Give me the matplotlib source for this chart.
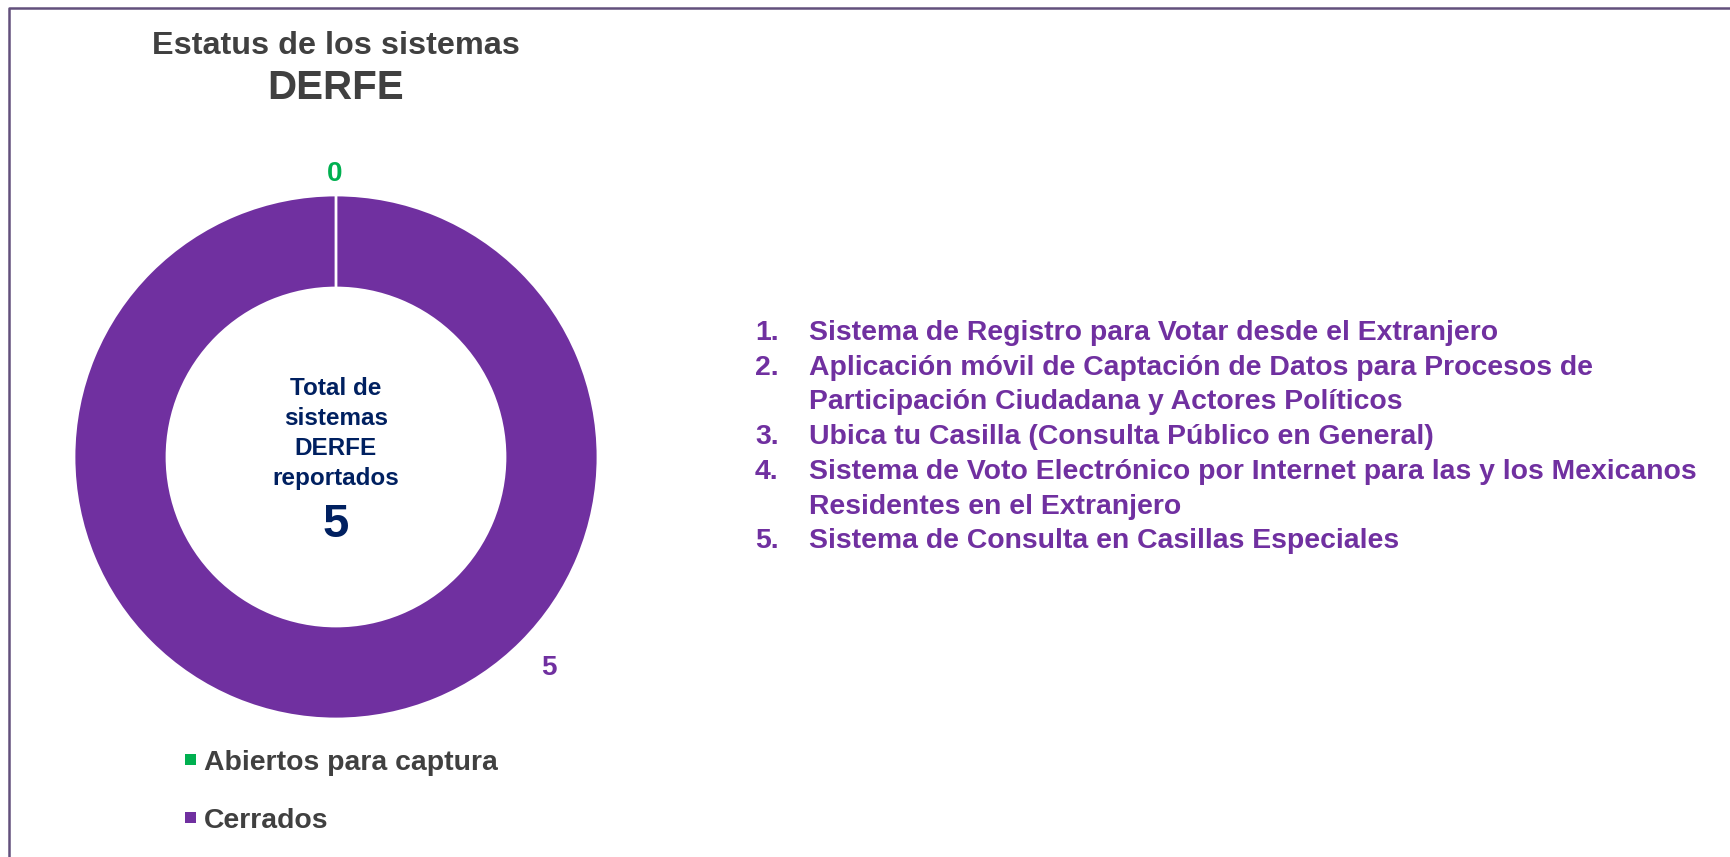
import matplotlib
matplotlib.use("Agg")
import matplotlib.pyplot as plt
from matplotlib.patches import Rectangle

# data
status_labels = ["Abiertos para captura", "Cerrados"]
status_values = [0, 5]
status_colors = ["#00B050", "#7030A0"]

title_lines = ["Estatus de los sistemas", "DERFE"]
center_lines = ["Total de", "sistemas", "DERFE", "reportados"]

# systems list, wrapped as in the original slide
systems = [
    ["Sistema de Registro para Votar desde el Extranjero"],
    ["Aplicación móvil de Captación de Datos para Procesos de",
     "Participación Ciudadana y Actores Políticos"],
    ["Ubica tu Casilla (Consulta Público en General)"],
    ["Sistema de Voto Electrónico por Internet para las y los Mexicanos",
     "Residentes en el Extranjero"],
    ["Sistema de Consulta en Casillas Especiales"],
]

W, H = 1730, 857
FONT = ["Liberation Sans", "DejaVu Sans"]
GRAY = "#404040"
NAVY = "#002060"
PURPLE = "#7030A0"

fig = plt.figure(figsize=(W / 100, H / 100), dpi=100)
fig.patch.set_facecolor("white")

# donut, centre (336, 457) px, radius 262 px
cx, cy, R = 336, 457, 262
ax = fig.add_axes([(cx - R) / W, (H - cy - R) / H, 2 * R / W, 2 * R / H])
wedges, _ = ax.pie(status_values, colors=status_colors, startangle=90,
                   counterclock=False, radius=1,
                   wedgeprops=dict(width=0.355, edgecolor="white", linewidth=2))
wedges[0].set_zorder(5)  # zero-size slice shows as the white gap line
ax.set_xlim(-1, 1)
ax.set_ylim(-1, 1)
ax.axis("off")

# overlay in pixel coordinates for the texts
ov = fig.add_axes([0, 0, 1, 1], zorder=10)
ov.set_xlim(0, W)
ov.set_ylim(H, 0)
ov.axis("off")
ov.patch.set_alpha(0)

# frame (only top and left visible in the crop)
ov.plot([8.5, 8.5, W], [H, 7.5, 7.5], color="#62507C", lw=1.8,
        solid_capstyle="butt")

ov.text(cx, 53.5, title_lines[0], ha="center", va="baseline",
        fontsize=23.3, fontweight="bold", color=GRAY, family=FONT)
ov.text(cx, 98.5, title_lines[1], ha="center", va="baseline",
        fontsize=29, fontweight="bold", color=GRAY, family=FONT)

# slice value labels
label_pos = [(335, 181), (549, 675)]
for (lx, ly), v, c in zip(label_pos, status_values, status_colors):
    ov.text(lx, ly, str(v), ha="center", va="baseline", fontsize=20,
            fontweight="bold", color=c, family=FONT)

# centre text
for i, line in enumerate(center_lines):
    ov.text(cx, 395 + 30 * i, line, ha="center", va="baseline",
            fontsize=17.5, fontweight="bold", color=NAVY, family=FONT)
ov.text(cx, 537, str(sum(status_values)), ha="center", va="baseline",
        fontsize=34, fontweight="bold", color=NAVY, family=FONT)

# numbered list
y = 340
for n, item in enumerate(systems, start=1):
    ov.text(755, y, f"{n}.", ha="left", va="baseline", fontsize=20.4,
            fontweight="bold", color=PURPLE, family=FONT)
    for line in item:
        ov.text(809, y, line, ha="left", va="baseline", fontsize=20.4,
                fontweight="bold", color=PURPLE, family=FONT)
        y += 34.7

# legend
for i, (lab, col) in enumerate(zip(status_labels, status_colors)):
    yc = 759.5 + 58 * i
    ov.add_patch(Rectangle((184.5, yc - 5.5), 11, 11, facecolor=col,
                           edgecolor="none"))
    ov.text(204, yc + 10.2, lab, ha="left", va="baseline", fontsize=20.4,
            fontweight="bold", color=GRAY, family=FONT)

fig.savefig("out.png", dpi=100)
plt.close(fig)
